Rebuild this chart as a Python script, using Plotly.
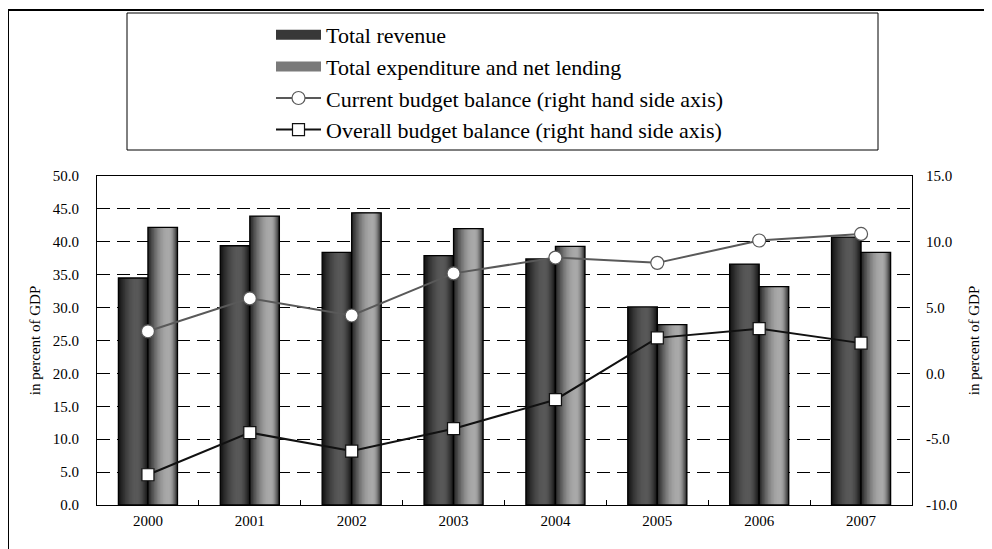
import math
import plotly.graph_objects as go

# ---------------- data ----------------
years = ["2000", "2001", "2002", "2003", "2004", "2005", "2006", "2007"]
total_revenue = [34.5, 39.4, 38.4, 37.9, 37.4, 30.1, 36.6, 40.7]
total_expenditure = [42.2, 43.9, 44.4, 42.0, 39.3, 27.4, 33.2, 38.4]
current_balance = [3.2, 5.7, 4.4, 7.6, 8.8, 8.4, 10.1, 10.6]
overall_balance = [-7.7, -4.5, -5.9, -4.2, -2.0, 2.7, 3.4, 2.3]

left_tickvals = [0, 5, 10, 15, 20, 25, 30, 35, 40, 45, 50]
left_ticktext = ["0.0", "5.0", "10.0", "15.0", "20.0", "25.0", "30.0", "35.0", "40.0", "45.0", "50.0"]
right_tickvals = [-10, -5, 0, 5, 10, 15]
right_ticktext = ["-10.0", "-5.0", "0.0", "5.0", "10.0", "15.0"]

names = [
    "Total revenue",
    "Total expenditure and net lending",
    "Current budget balance (right hand side axis)",
    "Overall budget balance (right hand side axis)",
]
axis_title = "in percent of GDP"

FONT = "Liberation Serif, Times New Roman, serif"
BAR_W = 0.29


def hex2rgb(h):
    h = h.lstrip("#")
    return [int(h[i:i + 2], 16) for i in (0, 2, 4)]


def mix(c1, c2, t):
    a, b = hex2rgb(c1), hex2rgb(c2)
    return "rgb(%d,%d,%d)" % tuple(round(a[i] + (b[i] - a[i]) * t) for i in range(3))


def gradient_bars(fig, values, offset, edge, peak_col, peak_pos, n=14):
    """Cylinder-like shading by nesting progressively narrower bars."""
    for k in range(n):
        t = k / n
        lo = peak_pos * t
        hi = peak_pos + (1 - peak_pos) * (1 - t)
        s = math.sin(math.pi / 2 * (k / (n - 1)))
        fig.add_trace(go.Bar(
            x=years, y=values,
            offset=offset + BAR_W * lo, width=BAR_W * (hi - lo),
            marker=dict(color=mix(edge, peak_col, s), line=dict(width=0)),
            showlegend=False, hoverinfo="skip",
        ))
    fig.add_trace(go.Bar(
        x=years, y=values, offset=offset, width=BAR_W,
        marker=dict(color="rgba(0,0,0,0)", line=dict(color="black", width=1.3)),
        showlegend=False, hoverinfo="skip",
    ))


fig = go.Figure()

gradient_bars(fig, total_revenue, -BAR_W, "#151515", "#585858", 0.62)
gradient_bars(fig, total_expenditure, 0.0, "#2a2a2a", "#a9a9a9", 0.70)

# legend stand-ins for the bar series
fig.add_trace(go.Scatter(x=[None], y=[None], mode="lines", name=names[0],
                         line=dict(color="#383838", width=10), legendrank=1))
fig.add_trace(go.Scatter(x=[None], y=[None], mode="lines", name=names[1],
                         line=dict(color="#7a7a7a", width=10), legendrank=2))

fig.add_trace(go.Scatter(
    x=years, y=current_balance, yaxis="y2", mode="lines+markers", name=names[2],
    line=dict(color="#595959", width=2),
    marker=dict(symbol="circle", size=13, color="white", line=dict(color="#595959", width=1.2)),
    legendrank=3,
))
fig.add_trace(go.Scatter(
    x=years, y=overall_balance, yaxis="y2", mode="lines+markers", name=names[3],
    line=dict(color="#111111", width=2),
    marker=dict(symbol="square", size=12, color="white", line=dict(color="#111111", width=1.2)),
    legendrank=4,
))

# plot area in page px (page has an 8px body margin): x 97..912, y 176..505
PW, PH = 815.0, 329.0


def px_x(p):
    return (p - 97) / PW


def px_y(p):
    return (505 - p) / PH


fig.update_layout(
    width=984, height=541,
    margin=dict(l=89, r=80, t=168, b=44, autoexpand=False),
    paper_bgcolor="white", plot_bgcolor="white",
    barmode="overlay",
    font=dict(family=FONT, size=15, color="black"),
    xaxis=dict(
        type="category", range=[-0.5, 7.5],
        showline=True, linecolor="black", linewidth=1, mirror=True,
        ticks="inside", tickson="boundaries", ticklen=5, tickcolor="black",
        showgrid=False, tickfont=dict(size=15, family=FONT),
        ticklabelstandoff=2,
    ),
    yaxis=dict(
        range=[0, 50], tickvals=left_tickvals, ticktext=left_ticktext,
        showline=True, linecolor="black", linewidth=1, mirror=True,
        showgrid=True, gridcolor="black", gridwidth=1, griddash="13px,7px",
        zeroline=False, ticks="outside", ticklen=14, tickcolor="rgba(0,0,0,0)",
        tickfont=dict(size=15, family=FONT),
        title=dict(text=axis_title, font=dict(size=15, family=FONT), standoff=8),
    ),
    yaxis2=dict(
        overlaying="y", side="right", range=[-10, 15],
        tickvals=right_tickvals, ticktext=right_ticktext,
        showline=True, linecolor="black", linewidth=1,
        showgrid=False, zeroline=False, ticks="outside", ticklen=10,
        tickcolor="rgba(0,0,0,0)", tickfont=dict(size=15, family=FONT),
        title=dict(text=axis_title, font=dict(size=15, family=FONT), standoff=12),
    ),
    legend=dict(
        x=px_x(500), xanchor="center", y=px_y(14), yanchor="top",
        font=dict(size=22, family=FONT, color="black"),
        bgcolor="rgba(0,0,0,0)", borderwidth=0, itemwidth=45,
    ),
    shapes=[
        # outer chart frame (extends beyond the visible window)
        dict(type="rect", xref="paper", yref="paper",
             x0=px_x(8), x1=px_x(1100), y0=px_y(600), y1=px_y(10),
             line=dict(color="black", width=2), fillcolor="rgba(0,0,0,0)", layer="above"),
        # legend box
        dict(type="rect", xref="paper", yref="paper",
             x0=px_x(127), x1=px_x(878), y0=px_y(150), y1=px_y(13),
             line=dict(color="black", width=1), fillcolor="rgba(0,0,0,0)", layer="above"),
    ],
    showlegend=True,
)

fig.write_html("out.html")
